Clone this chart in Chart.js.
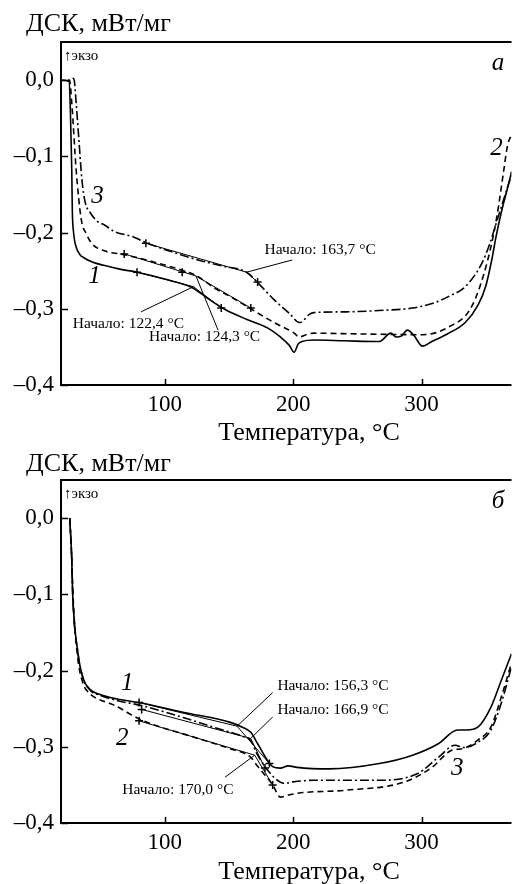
<!DOCTYPE html>
<html lang="ru">
<head>
<meta charset="UTF-8">
<title>ДСК</title>
<script src="https://cdn.jsdelivr.net/npm/chart.js"></script>
<style>
  body { margin: 0; background: #fff; }
  canvas { display: block; }
</style>
</head>
<body>
<canvas id="chartA" width="517" height="450"></canvas>
<canvas id="chartB" width="517" height="434"></canvas>
<script>
// ---- axes ----
const xTicks = [100, 200, 300];
const yTicks = [0, -0.1, -0.2, -0.3, -0.4];

// ---- panel а ----
const tA1 = [20, 25.5, 26.5, 27, 27.6, 28, 29, 31, 34, 37, 44, 52.5, 65, 78.5, 100, 121, 134, 147, 164, 180, 190, 197, 200.7, 204, 207, 216, 240, 267, 276, 280, 284, 289, 294, 300.7, 308, 320, 334, 344, 350, 354.6, 358, 362, 368.5, 370];
const yA1 = [0, -0.002, -0.04, -0.075, -0.12, -0.17, -0.2, -0.219, -0.229, -0.233, -0.239, -0.243, -0.248, -0.252, -0.261, -0.272, -0.287, -0.301, -0.314, -0.325, -0.337, -0.348, -0.357, -0.346, -0.343, -0.341, -0.342, -0.343, -0.332, -0.337, -0.336, -0.328, -0.335, -0.349, -0.343, -0.333, -0.318, -0.295, -0.27, -0.236, -0.205, -0.174, -0.131, -0.12];

const tA2 = [24.6, 25.8, 27.6, 31, 35, 39, 43, 53, 68.4, 90, 114.6, 124, 139, 152, 166, 185, 200, 205, 210, 216, 250, 301, 321, 339, 351.5, 358.5, 364, 367, 370];
const yA2 = [0, 0, -0.03, -0.118, -0.183, -0.202, -0.214, -0.224, -0.229, -0.238, -0.25, -0.256, -0.273, -0.285, -0.299, -0.318, -0.331, -0.337, -0.334, -0.332, -0.333, -0.334, -0.324, -0.297, -0.236, -0.18, -0.118, -0.085, -0.072];

const tA3 = [28.4, 29.5, 31, 33, 35.5, 38, 42, 48, 53, 60, 76, 85, 105, 126, 145, 163.7, 172, 185, 197, 205, 207, 212, 216, 241, 270, 293, 310, 322, 334, 347, 353, 359, 367, 370];
const yA3 = [0.003, 0, -0.03, -0.075, -0.131, -0.16, -0.174, -0.186, -0.19, -0.198, -0.206, -0.213, -0.225, -0.236, -0.244, -0.252, -0.265, -0.288, -0.306, -0.318, -0.317, -0.308, -0.305, -0.304, -0.302, -0.299, -0.292, -0.283, -0.271, -0.24, -0.215, -0.183, -0.14, -0.125];

// onset constructions: [start +, onset, end +]
const onsetTA = [122.4, 124.3, 163.7];
const tanTA = [[78.4, 122.4, 144], [68.4, 124.3, 167], [85.3, 163.7, 172.3]];
const tanYA = [[-0.252, -0.271, -0.299], [-0.228, -0.257, -0.299], [-0.214, -0.252, -0.265]];
const extraMarkA = [[113.6, -0.252]];
const leadEndA = [[81.5, -0.304], [141.5, -0.328], [199.2, -0.236]];
const labelPosA = [[28.4, -0.320], [87.7, -0.337], [177.7, -0.223]];
const curveNumA = [[45.35, -0.258, '1'], [358.4, -0.089, '2'], [47.7, -0.153, '3']];

// ---- panel б ----
const tB1 = [26, 27.5, 28.3, 32.3, 36.4, 42, 49, 62, 80, 115, 151, 160, 167, 172, 180, 184, 190, 196, 203, 228, 267, 293, 313, 328, 335, 344, 354, 362, 370];
const yB1 = [0, -0.05, -0.1, -0.176, -0.21, -0.225, -0.231, -0.237, -0.242, -0.255, -0.268, -0.274, -0.281, -0.295, -0.318, -0.326, -0.328, -0.325, -0.327, -0.329, -0.322, -0.311, -0.296, -0.278, -0.278, -0.274, -0.248, -0.213, -0.178];

const tB2 = [26, 27.5, 28.5, 32, 36, 41.5, 49, 60, 82, 120, 150, 167, 172, 184, 190, 195, 203, 241, 287, 308, 323, 333, 344, 354, 362, 370];
const yB2 = [0, -0.05, -0.1, -0.18, -0.215, -0.23, -0.238, -0.245, -0.265, -0.286, -0.302, -0.314, -0.325, -0.35, -0.366, -0.364, -0.361, -0.357, -0.346, -0.327, -0.305, -0.302, -0.291, -0.274, -0.235, -0.19];

const tB3 = [26, 27.5, 28.3, 32.3, 36.4, 42, 49, 62, 82, 115, 139, 160, 167, 172, 185, 193, 200, 216, 267, 297, 313, 326, 333, 344, 354, 362, 370];
const yB3 = [0, -0.05, -0.1, -0.176, -0.21, -0.226, -0.232, -0.239, -0.246, -0.262, -0.275, -0.286, -0.292, -0.31, -0.34, -0.348, -0.346, -0.344, -0.344, -0.335, -0.314, -0.298, -0.301, -0.294, -0.278, -0.243, -0.195];

const onsetTB = [156.3, 166.9, 170.0];
const tanTB = [[80, 156.3, 181.5], [82, 166.9, 178], [80, 170, 184]];
const tanYB = [[-0.242, -0.273, -0.322], [-0.251, -0.289, -0.328], [-0.266, -0.311, -0.35]];
const extraMarkB = [];
const leadEndB = [[184, -0.229], [184, -0.261], [146.9, -0.340]];
const labelPosB = [[187.7, -0.220], [187.7, -0.252], [66.9, -0.357]];
const curveNumB = [[70.7, -0.217, '1'], [66.9, -0.289, '2'], [327.7, -0.328, '3']];

const SERIF = '"Liberation Serif", "Times New Roman", serif';

function pts(xs, ys) { return xs.map((x, i) => ({ x: x, y: ys[i] })); }

function fmtY(v) {
  const s = Math.abs(v).toFixed(1).replace('.', ',');
  return v < -1e-9 ? '\u2013' + s : s;
}

const decor = {
  id: 'decor',
  afterDatasetsDraw(chart, args, o) {
    const { ctx, chartArea: a, scales } = chart;
    const x = scales.x, y = scales.y;
    ctx.save();
    ctx.strokeStyle = '#000';
    ctx.lineWidth = 2;
    ctx.beginPath();
    ctx.moveTo(a.right, a.top);
    ctx.lineTo(a.left, a.top);
    ctx.lineTo(a.left, a.bottom);
    ctx.lineTo(a.right, a.bottom);
    ctx.stroke();
    // inward ticks
    ctx.lineWidth = 1.5;
    xTicks.forEach(v => {
      const p = Math.round(x.getPixelForValue(v)) + 0.5;
      ctx.beginPath(); ctx.moveTo(p, a.bottom); ctx.lineTo(p, a.bottom - 6); ctx.stroke();
    });
    yTicks.forEach(v => {
      const p = Math.round(y.getPixelForValue(v)) + 0.5;
      ctx.beginPath(); ctx.moveTo(a.left, p); ctx.lineTo(a.left + 7, p); ctx.stroke();
    });
    ctx.fillStyle = '#000';
    ctx.textBaseline = 'alphabetic';
    ctx.textAlign = 'left';
    ctx.font = '26px ' + SERIF;
    ctx.fillText('ДСК, мВт/мг', 26, o.titleY);
    ctx.textAlign = 'center';
    ctx.fillText('Температура, \u00B0C', 309, o.xTitleY);
    ctx.textAlign = 'left';
    ctx.font = '15px ' + SERIF;
    ctx.fillText('\u2191экзо', a.left + 3, a.top + 18);
    ctx.font = 'italic 25px ' + SERIF;
    ctx.textAlign = 'center';
    ctx.textBaseline = 'middle';
    ctx.fillText(o.panel, 498, a.top + 21);
    // curve numbers
    o.nums.forEach(n => {
      ctx.fillText(n[2], x.getPixelForValue(n[0]), y.getPixelForValue(n[1]));
    });
    // onset labels
    ctx.font = '15.5px ' + SERIF;
    ctx.textAlign = 'left';
    o.onsets.forEach((t, i) => {
      const lp = o.labels[i];
      ctx.fillText('Начало: ' + t.toFixed(1).replace('.', ',') + ' \u00B0C', x.getPixelForValue(lp[0]), y.getPixelForValue(lp[1]));
    });
    ctx.restore();
  }
};

function makeChart(id, curves, tanT, tanY, extra, leadEnd, onsets, labels, nums, panel, padTop, xHeight, titleY, xTitleY) {
  const datasets = [];
  const dashes = [[], [6, 4], [9, 3, 2, 3]];
  curves.forEach((c, i) => {
    datasets.push({
      data: pts(c[0], c[1]),
      borderColor: '#000',
      borderWidth: 1.6,
      borderDash: dashes[i],
      pointRadius: 0,
      cubicInterpolationMode: 'monotone'
    });
  });
  const marks = [];
  tanT.forEach((ts, i) => {
    datasets.push({
      data: pts(ts, tanY[i]),
      borderColor: '#000',
      borderWidth: 1,
      pointRadius: 0
    });
    marks.push({ x: ts[0], y: tanY[i][0] }, { x: ts[2], y: tanY[i][2] });
    datasets.push({
      data: [{ x: ts[1], y: tanY[i][1] }, { x: leadEnd[i][0], y: leadEnd[i][1] }],
      borderColor: '#000',
      borderWidth: 1,
      pointRadius: 0
    });
  });
  extra.forEach(m => marks.push({ x: m[0], y: m[1] }));
  datasets.push({
    data: marks,
    showLine: false,
    pointStyle: 'cross',
    pointRadius: 4,
    borderColor: '#000',
    borderWidth: 1.5
  });

  return new Chart(document.getElementById(id), {
    type: 'line',
    data: { datasets: datasets },
    options: {
      responsive: false,
      animation: false,
      layout: { padding: { top: padTop, right: 0, left: 0, bottom: 0 } },
      plugins: {
        legend: { display: false },
        tooltip: { enabled: false },
        decor: { panel: panel, nums: nums, onsets: onsets, labels: labels, titleY: titleY, xTitleY: xTitleY }
      },
      scales: {
        x: {
          type: 'linear',
          min: 19.2, max: 370,
          afterBuildTicks: s => { s.ticks = xTicks.map(v => ({ value: v })); },
          afterFit: s => { s.height = xHeight; },
          grid: { display: false, drawTicks: false },
          border: { display: false },
          ticks: { color: '#000', padding: 6, font: { family: SERIF, size: 23 } }
        },
        y: {
          min: -0.4, max: 0.05,
          afterBuildTicks: s => { s.ticks = yTicks.map(v => ({ value: v })); },
          afterFit: s => { s.width = 61; },
          grid: { display: false, drawTicks: false },
          border: { display: false },
          ticks: { color: '#000', padding: 7, font: { family: SERIF, size: 23 }, callback: v => fmtY(v) }
        }
      }
    },
    plugins: [decor]
  });
}

makeChart('chartA', [[tA1, yA1], [tA2, yA2], [tA3, yA3]], tanTA, tanYA, extraMarkA, leadEndA,
  onsetTA, labelPosA, curveNumA, 'а', 42, 65, 31, 440);
makeChart('chartB', [[tB1, yB1], [tB2, yB2], [tB3, yB3]], tanTB, tanYB, extraMarkB, leadEndB,
  onsetTB, labelPosB, curveNumB, 'б', 30, 61, 21, 429);
</script>
</body>
</html>
